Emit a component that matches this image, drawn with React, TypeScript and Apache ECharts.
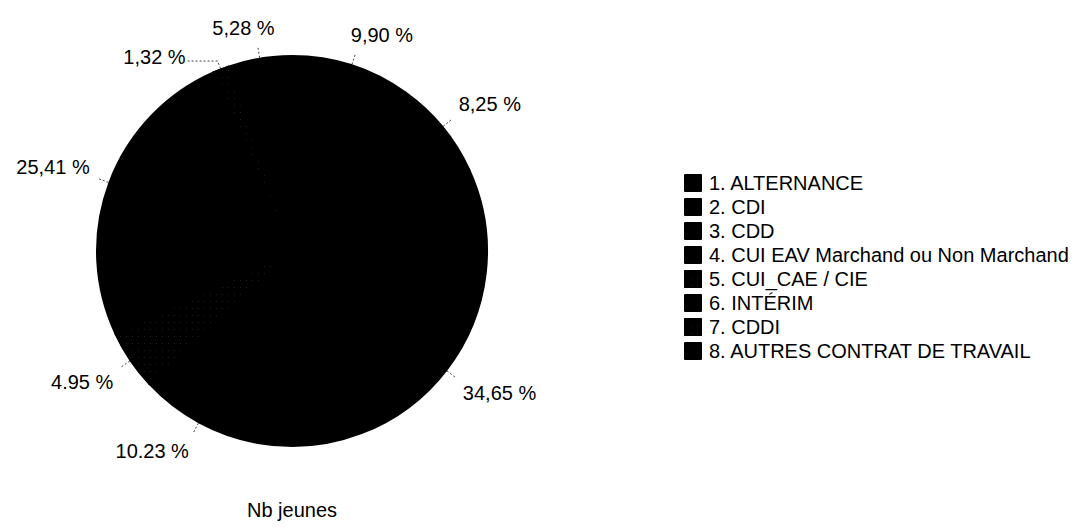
import React, { useEffect, useRef } from "react";
import * as echarts from "echarts";

const categories = [
  "1. ALTERNANCE",
  "2. CDI",
  "3. CDD",
  "4. CUI EAV Marchand ou Non Marchand",
  "5. CUI_CAE / CIE",
  "6. INTÉRIM",
  "7. CDDI",
  "8. AUTRES CONTRAT DE TRAVAIL",
];
const values = [9.9, 8.25, 34.65, 10.23, 4.95, 25.41, 1.32, 5.28];
const valueLabels = ["9,90 %", "8,25 %", "34,65 %", "10.23 %", "4.95 %", "25,41 %", "1,32 %", "5,28 %"];
const patterned = [false, false, false, false, true, false, true, false];
const chartTitle = "Nb jeunes";

const CX = 292;
const CY = 251;
const R = 195;

export default function App() {
  const ref = useRef<HTMLDivElement>(null);
  useEffect(() => {
    if (!ref.current) return;
    const chart = echarts.init(ref.current, null, { renderer: "svg" });
    const font = "'Liberation Sans', Arial, sans-serif";
    const total = values.reduce((a, b) => a + b, 0);
    const cum: number[] = [];
    values.reduce((acc, v, i) => {
      cum[i] = acc;
      return acc + v;
    }, 0);
    const clamp = (v: number) => Math.max(-1, Math.min(1, v));

    chart.setOption({
      animation: false,
      backgroundColor: "#ffffff",
      title: {
        text: chartTitle,
        left: CX,
        top: 500,
        padding: 0,
        textAlign: "center",
        textStyle: { fontSize: 20, fontWeight: "normal", color: "#000", fontFamily: font },
      },
      legend: {
        orient: "vertical",
        left: 684,
        top: 173,
        padding: 0,
        icon: "rect",
        itemWidth: 16,
        itemHeight: 16,
        itemGap: 4,
        textStyle: {
          fontSize: 20,
          lineHeight: 20,
          color: "#000",
          fontFamily: font,
          padding: [0, 0, 0, 3],
        },
        data: categories,
      },
      series: [
        {
          type: "pie",
          center: [CX, CY],
          radius: R,
          startAngle: 90,
          clockwise: true,
          avoidLabelOverlap: false,
          itemStyle: { color: "#000", borderColor: "#000", borderWidth: 2, borderJoin: "round" },
          label: {
            show: true,
            position: "outside",
            color: "#000",
            fontSize: 20,
            fontFamily: font,
            formatter: (p: any) => valueLabels[p.dataIndex],
          },
          labelLine: {
            show: true,
            length: 12,
            length2: 0,
            lineStyle: { color: "#444", width: 1, type: [2, 2] },
          },
          labelLayout: (params: any) => {
            const i = params.dataIndex;
            const theta = ((cum[i] + values[i] / 2) / total) * Math.PI * 2;
            const ux = Math.sin(theta);
            const uy = -Math.cos(theta);
            const x0 = CX + (R + 1) * ux;
            const y0 = CY + (R + 1) * uy;
            const w = params.labelRect.width;
            const h = params.labelRect.height;
            if (values[i] < 2) {
              const ex = x0 + ux * 8;
              const ey = y0 + uy * 8;
              const sx = ux < 0 ? -1 : 1;
              const hx = ex + sx * 30;
              return {
                x: hx + sx * (w / 2 + 2),
                y: ey - 4,
                align: "center",
                verticalAlign: "middle",
                labelLinePoints: [
                  [x0, y0],
                  [ex, ey],
                  [hx, ey],
                ],
              };
            }
            const L = 12;
            const g = 8;
            const ex = x0 + ux * L;
            const ey = y0 + uy * L;
            return {
              x: ex + clamp(2.5 * ux) * (w / 2) + ux * g,
              y: ey + clamp(2.5 * uy) * (h / 2) + uy * g,
              align: "center",
              verticalAlign: "middle",
              labelLinePoints: [
                [x0, y0],
                [ex, ey],
                [ex, ey],
              ],
            };
          },
          emphasis: { disabled: true },
          data: categories.map((name, i) => ({
            name,
            value: values[i],
            itemStyle: patterned[i]
              ? {
                  color: "#000",
                  decal: {
                    symbol: "rect",
                    symbolSize: 0.5,
                    color: "rgba(255,255,255,0.5)",
                    dashArrayX: [[1, 5]],
                    dashArrayY: [1, 6],
                    rotation: 0,
                  },
                }
              : { color: "#000" },
          })),
        },
      ],
    });
    return () => chart.dispose();
  }, []);
  return (
    <div
      ref={ref}
      style={{ position: "fixed", left: 0, top: 0, width: 1089, height: 527 }}
    />
  );
}
